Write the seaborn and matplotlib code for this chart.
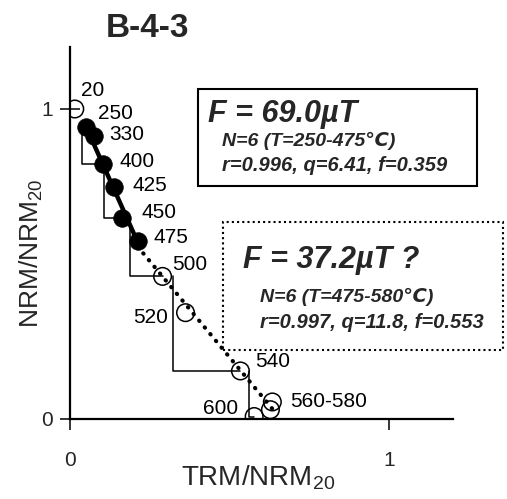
import numpy as np
import pandas as pd
import matplotlib
matplotlib.use("Agg")
import matplotlib.pyplot as plt
from matplotlib.patches import Rectangle
import seaborn as sns

# Thellier steps (deg C) and Arai-diagram coordinates, normalised by NRM at 20 deg C
temps = [20, 250, 330, 400, 425, 450, 475, 500, 520, 540, 560, 580, 600]
trm = [0.015, 0.050, 0.075, 0.102, 0.138, 0.163, 0.212, 0.290, 0.362, 0.534, 0.634, 0.628, 0.577]
nrm = [1.000, 0.942, 0.913, 0.822, 0.748, 0.650, 0.573, 0.460, 0.343, 0.155, 0.055, 0.030, 0.008]

# steps used by the primary (solid) and secondary (dotted) fits
fit1_temps = [250, 330, 400, 425, 450, 475]
fit2_temps = [475, 500, 520, 540, 560, 580]
lab_field = 30.0          # uT
f1_value = 69.0           # uT
f2_value = 37.2           # uT

# pTRM checks: check x position, the step it hangs from and the step it drops to
check_x = [0.038, 0.106, 0.188, 0.322, 0.561]
check_from = [250, 400, 450, 500, 540]
check_to = [400, 450, 500, 540, 600]

# step labels
label_temps = [20, 250, 330, 400, 425, 450, 475, 500, 520, 540, 560, 600]
label_text = ["20", "250", "330", "400", "425", "450", "475", "500", "520", "540", "560-580", "600"]

sns.set_style("ticks")
plt.rcParams["font.family"] = ["Liberation Sans", "DejaVu Sans"]
plt.rcParams["mathtext.fontset"] = "custom"
plt.rcParams["mathtext.rm"] = "Liberation Sans"
plt.rcParams["mathtext.it"] = "Liberation Sans:italic"
plt.rcParams["mathtext.bf"] = "Liberation Sans:bold"

W, H = 507, 499
fig = plt.figure(figsize=(W / 100, H / 100), dpi=100)
ax = fig.add_axes([70 / W, 80 / H, 383 / W, 372 / H])

df = pd.DataFrame({"T": temps, "x": trm, "y": nrm})
df["fit1"] = df["T"].isin(fit1_temps)

# fit lines: slope from the stated field estimate, through the centroid of the fit points
def fit_line(sel_temps, f_value):
    sub = df[df["T"].isin(sel_temps)]
    slope = -f_value / lab_field
    xs = np.array([sub["x"].min(), sub["x"].max()])
    ys = sub["y"].mean() + slope * (xs - sub["x"].mean())
    return xs, ys

x1, y1 = fit_line(fit1_temps, f1_value)
x2, y2 = fit_line(fit2_temps, f2_value)
sns.lineplot(x=x2, y=y2, ax=ax, color="black", lw=3.0,
             linestyle=(0, (0.1, 2.0)), dash_capstyle="round", zorder=2)
sns.lineplot(x=x1, y=y1, ax=ax, color="black", lw=3.2, zorder=2)

# pTRM check steps
seg_rows = []
for i, (cx, ta, tb) in enumerate(zip(check_x, check_from, check_to)):
    ya = df.loc[df["T"] == ta, "y"].item()
    pb = df.loc[df["T"] == tb]
    seg_rows += [(i, 0, cx, ya), (i, 1, cx, pb["y"].item()), (i, 2, pb["x"].item(), pb["y"].item())]
segs = pd.DataFrame(seg_rows, columns=["check", "order", "x", "y"])
sns.lineplot(data=segs, x="x", y="y", units="check", estimator=None, sort=False,
             color="black", lw=1.1, ax=ax, zorder=2)

# data points: filled = primary fit, open = the rest
sns.scatterplot(data=df[~df["fit1"]], x="x", y="y", ax=ax, s=160, marker="o",
                facecolor="none", edgecolor="black", linewidth=1.1, zorder=4)
sns.scatterplot(data=df[df["fit1"]], x="x", y="y", ax=ax, s=160, marker="o",
                color="black", edgecolor="black", linewidth=0.5, zorder=4)

# step labels
offsets = {20: (6, 18, "left"), 250: (12, 13, "left"), 330: (15, 1, "left"),
           400: (17, 3, "left"), 425: (18, 2, "left"), 450: (19, 5, "left"),
           475: (16, 4, "left"), 500: (10, 12, "left"), 520: (-18, -5, "right"),
           540: (15, 9, "left"), 560: (18, 0, "left"), 600: (-16, 8, "right")}
for t, txt in zip(label_temps, label_text):
    row = df.loc[df["T"] == t].iloc[0]
    dx, dy, ha = offsets[t]
    ax.annotate(txt, (row["x"], row["y"]), xytext=(dx, dy), textcoords="offset pixels",
                ha=ha, va="center", fontsize=15, color="black")

ax.set_xlim(0, 1.2)
ax.set_ylim(0, 1.2)
ax.set_xticks([0, 1])
ax.set_yticks([0, 1])
ax.set_xticklabels(["0", "1"])
ax.set_yticklabels(["0", "1"])
ax.tick_params(axis="x", direction="out", length=8, width=1.3, pad=15, labelsize=15)
ax.tick_params(axis="y", direction="inout", length=14, width=1.3, pad=5, labelsize=15)
for side in ["top", "right"]:
    ax.spines[side].set_visible(False)
for side in ["left", "bottom"]:
    ax.spines[side].set_linewidth(1.6)
    ax.spines[side].set_color("black")
ax.set_xlabel("")
ax.set_ylabel("")

def fx(px):
    return px / W

def fy(py):
    return 1 - py / H

# axis titles
fig.text(fx(258), fy(486), r"TRM/NRM$_{20}$", ha="center", va="baseline", fontsize=20)
fig.text(fx(31), fy(253), r"NRM/NRM$_{20}$", ha="center", va="center", rotation=90,
         fontsize=19)

# panel title
fig.text(fx(147), fy(37), "B-4-3", ha="center", va="baseline", fontsize=24, fontweight="bold")

# primary estimate box
fig.add_artist(Rectangle((fx(198), fy(186)), fx(477) - fx(198), fy(89) - fy(186),
                         transform=fig.transFigure, fill=False, lw=1.5, ec="black"))
fig.text(fx(208), fy(122), f"F = {f1_value:.1f}\u00b5T", fontsize=22, fontweight="bold",
         style="italic", va="baseline")
fig.text(fx(222), fy(146), "N=6 (T=250-475\u2103)", fontsize=14, fontweight="bold",
         style="italic", va="baseline")
fig.text(fx(222), fy(171), "r=0.996, q=6.41, f=0.359", fontsize=14.5, fontweight="bold",
         style="italic", va="baseline")

# secondary estimate box
fig.add_artist(Rectangle((fx(223), fy(350)), fx(503) - fx(223), fy(222) - fy(350),
                         transform=fig.transFigure, fill=False, lw=1.5, ec="black",
                         linestyle=(0, (1, 1.5))))
fig.text(fx(243), fy(268), f"F = {f2_value:.1f}\u00b5T ?", fontsize=22, fontweight="bold",
         style="italic", va="baseline")
fig.text(fx(260), fy(302), "N=6 (T=475-580\u2103)", fontsize=14, fontweight="bold",
         style="italic", va="baseline")
fig.text(fx(260), fy(328), "r=0.997, q=11.8, f=0.553", fontsize=14.5, fontweight="bold",
         style="italic", va="baseline")

fig.savefig("out.png", dpi=100, facecolor="white")
